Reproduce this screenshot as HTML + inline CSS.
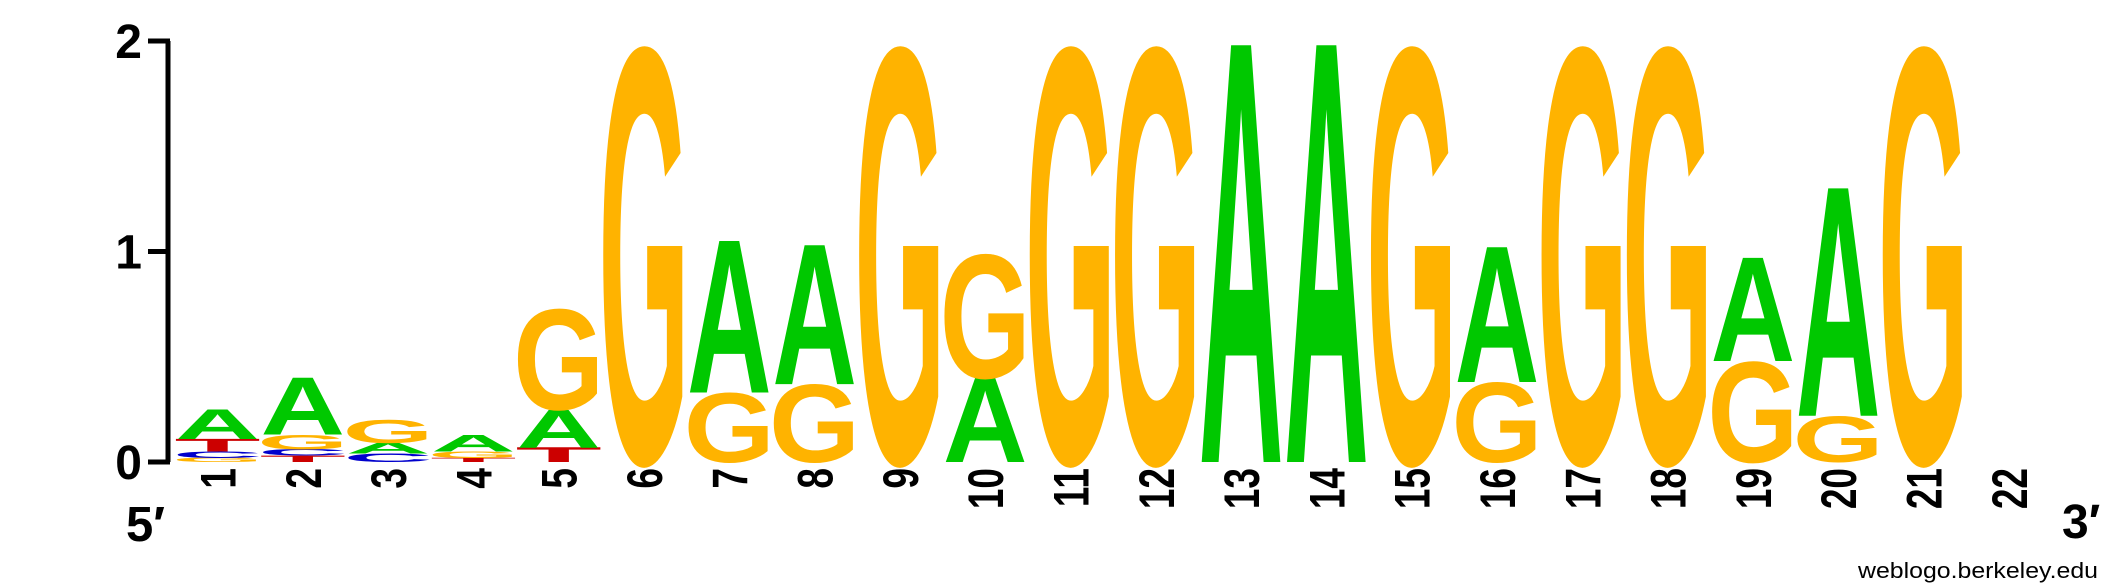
<!DOCTYPE html>
<html><head><meta charset="utf-8">
<style>html,body{margin:0;padding:0;background:#fff}svg{display:block}</style>
</head><body>
<svg id="logo" width="2125" height="588" viewBox="0 0 2125 588" xmlns="http://www.w3.org/2000/svg" font-family="'Liberation Sans', Arial, sans-serif">
<g id="axis"></g>
<g id="stacks"></g>
<g id="xlabels"></g>
<text x="126" y="541" font-size="49" font-weight="bold">5′</text>
<text x="2062" y="538" font-size="48" font-weight="bold">3′</text>
<text x="1858" y="578" font-size="22" textLength="240" lengthAdjust="spacingAndGlyphs">weblogo.berkeley.edu</text>
</svg>
<script>
const positions = [1,2,3,4,5,6,7,8,9,10,11,12,13,14,15,16,17,18,19,20,21,22];
// stacks bottom-to-top: [letter, bits]
const stackLetters = [
 ["G","C","T","A"],["T","C","G","A"],["C","A","G"],["T","G","A"],["T","A","G"],
 ["G"],["G","A"],["G","A"],["G"],["A","G"],["G"],["G"],["A"],["A"],["G"],
 ["G","A"],["G"],["G"],["G","A"],["G","A"],["G"],[]
];
const stackBits = [
 [0.02,0.03,0.06,0.14],[0.03,0.03,0.07,0.27],[0.04,0.05,0.11],[0.02,0.03,0.08],[0.07,0.18,0.48],
 [1.98],[0.33,0.72],[0.37,0.66],[1.98],[0.4,0.59],[1.98],[1.98],[1.98],[1.98],[1.98],
 [0.38,0.64],[1.98],[1.98],[0.48,0.49],[0.22,1.08],[1.98],[]
];
const yTicks = [0,1,2];

const NS="http://www.w3.org/2000/svg";
const y0=462, unit=210.5, c6=644, sp=85.3, colW=82;
const yScale=v=>y0-v*unit;
const xScale=p=>c6+(p-6)*sp;
const colors={A:"#00C800",C:"#0000CC",G:"#FFB300",T:"#CC0000"};
const ink={A:0.70,C:0.66,G:0.70,T:0.58};
const capH={A:0.688,C:0.70,G:0.70,T:0.688};

const axis=document.getElementById('axis');
const ax=document.createElementNS(NS,'path');
ax.setAttribute('d',`M168 ${yScale(2)} V${yScale(0)}`);
ax.setAttribute('stroke','#000');ax.setAttribute('stroke-width','5');


axis.appendChild(ax);
yTicks.forEach(t=>{
  const tk=document.createElementNS(NS,'path');
  tk.setAttribute('d',`M148 ${yScale(t)} H170`);
  tk.setAttribute('stroke','#000');tk.setAttribute('stroke-width','5');
  
  
  axis.appendChild(tk);
  const lb=document.createElementNS(NS,'text');
  lb.setAttribute('x','142');lb.setAttribute('y',yScale(t)+17);
  lb.setAttribute('text-anchor','end');lb.setAttribute('font-size','48');lb.setAttribute('font-weight','bold');
  lb.textContent=t;
  
  
  axis.appendChild(lb);
});

const stacks=document.getElementById('stacks');
positions.forEach((p,i)=>{
  let acc=0;const cx=xScale(p);
  stackLetters[i].forEach((L,j)=>{
    const h=stackBits[i][j]*unit;
    const base=yScale(acc);
    acc+=stackBits[i][j];
    if(h<0.5) return;
    const t=document.createElementNS(NS,'text');
    t.setAttribute('x','0');t.setAttribute('y','0');
    t.setAttribute('font-size','100');t.setAttribute('font-weight','bold');
    t.setAttribute('text-anchor','middle');t.setAttribute('fill',colors[L]);
    const sx=colW/(ink[L]*100), sy=h/(capH[L]*100);
    t.setAttribute('transform',`translate(${cx},${base}) scale(${sx},${sy})`);
    t.textContent=L;
    
    
    stacks.appendChild(t);
  });
});

const xl=document.getElementById('xlabels');
positions.forEach(p=>{
  const t=document.createElementNS(NS,'text');
  const cx=xScale(p);
  t.setAttribute('transform',`translate(${cx+18},468) rotate(-90) scale(0.74,1)`);
  t.setAttribute('text-anchor','end');t.setAttribute('font-size','50');t.setAttribute('font-weight','bold');
  t.textContent=p;
  
  
  xl.appendChild(t);
});
</script>
</body></html>
